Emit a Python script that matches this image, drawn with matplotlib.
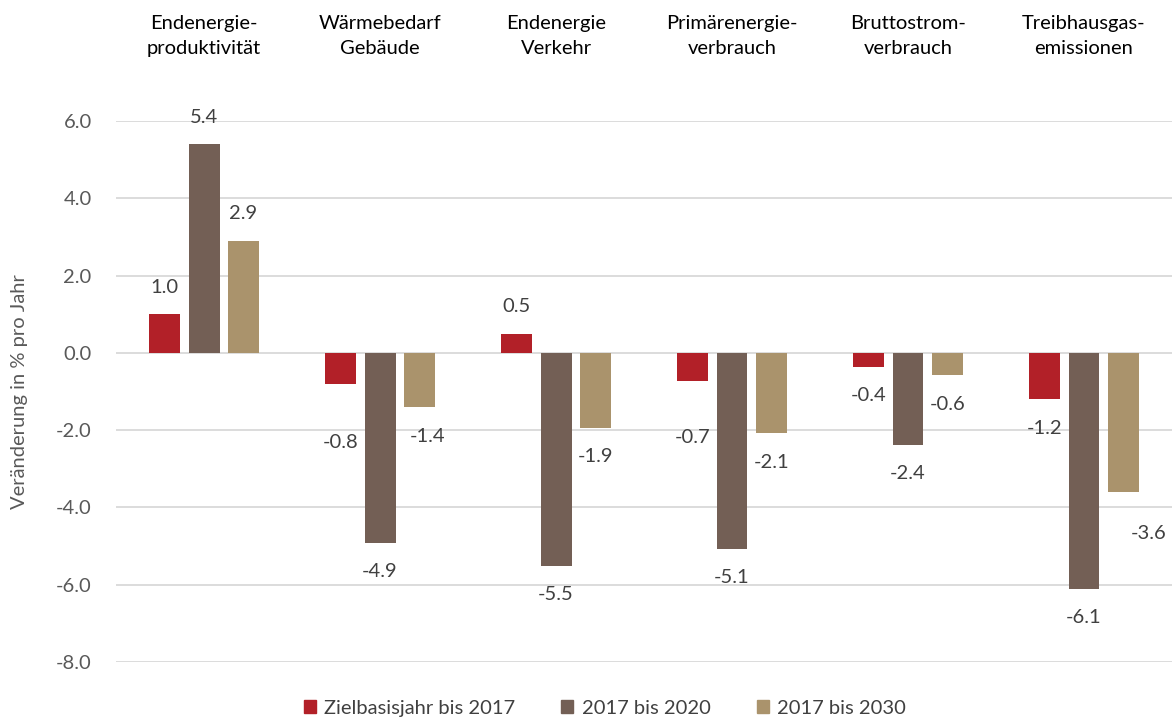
import matplotlib
matplotlib.use("Agg")
import matplotlib.pyplot as plt
import matplotlib.transforms as mtransforms
import numpy as np
from matplotlib.patches import Patch

categories = ["Endenergie-\nproduktivität", "Wärmebedarf\nGebäude", "Endenergie\nVerkehr",
              "Primärenergie-\nverbrauch", "Bruttostrom-\nverbrauch", "Treibhausgas-\nemissionen"]
series_names = ["Zielbasisjahr bis 2017", "2017 bis 2020", "2017 bis 2030"]
zielbasis_2017 = [1.0, -0.8, 0.5, -0.74, -0.36, -1.19]
y2017_2020 = [5.4, -4.91, -5.51, -5.07, -2.38, -6.1]
y2017_2030 = [2.9, -1.4, -1.94, -2.07, -0.57, -3.59]
yticks = [-8, -6, -4, -2, 0, 2, 4, 6]

colors = ["#B22028", "#735F55", "#AA936C"]
plt.rcParams['font.family'] = ['Lato', 'DejaVu Sans']
FS = 14.5

fig = plt.figure(figsize=(11.72, 7.22), dpi=100)
ax = fig.add_axes([0.099, 0.0831, 0.901, 0.7493])

x = np.arange(len(categories))
width = 0.176
step = 0.224
series = [zielbasis_2017, y2017_2020, y2017_2030]
# label nudges in points (dx, extra dy for negative labels), keyed by (series, category)
nudge = {(0, 1): (0, -21), (0, 3): (0, -19), (2, 1): (6, 0), (2, 5): (18, -9)}
for i, (vals, c) in enumerate(zip(series, colors)):
    xs = x + (i - 1) * step
    ax.bar(xs, vals, width=width, color=c, zorder=3)
    for j, (xx, v) in enumerate(zip(xs, vals)):
        dx, dy = nudge.get((i, j), (0, 0))
        off = 19.5 if v >= 0 else -21 + dy
        ax.annotate(f"{v:.1f}", (xx, v), xytext=(dx, off), textcoords="offset points",
                    ha="center", va="center", fontsize=FS, color="#404040")

ax.set_xlim(-0.5, len(categories) - 0.5)
ax.set_ylim(-8, 6)
ax.set_yticks(yticks)
ax.set_yticklabels([f"{t:.1f}" for t in yticks], fontsize=FS, color="#595959")
ax.tick_params(axis="y", length=0, pad=17.5)
ax.set_xticks([])
ax.grid(axis="y", color="#D9D9D9", linewidth=1.3, zorder=0)
for s in ax.spines.values():
    s.set_visible(False)
ax.set_ylabel("Veränderung in % pro Jahr", fontsize=FS, color="#595959", labelpad=20)

trans = mtransforms.blended_transform_factory(ax.transData, fig.transFigure)
for xi, cat in zip(x, categories):
    ax.text(xi, 0.950, cat, transform=trans, ha="center", va="center",
            fontsize=FS, color="#000000", linespacing=1.6)

handles = [Patch(color=c, label=n) for c, n in zip(colors, series_names)]
fig.legend(handles=handles, loc="center", bbox_to_anchor=(0.516, 0.019), ncol=3,
           frameon=False, fontsize=FS, handlelength=0.6, handleheight=0.6,
           handletextpad=0.4, columnspacing=2.3, labelcolor="#404040")

fig.savefig("out.png", dpi=100)
